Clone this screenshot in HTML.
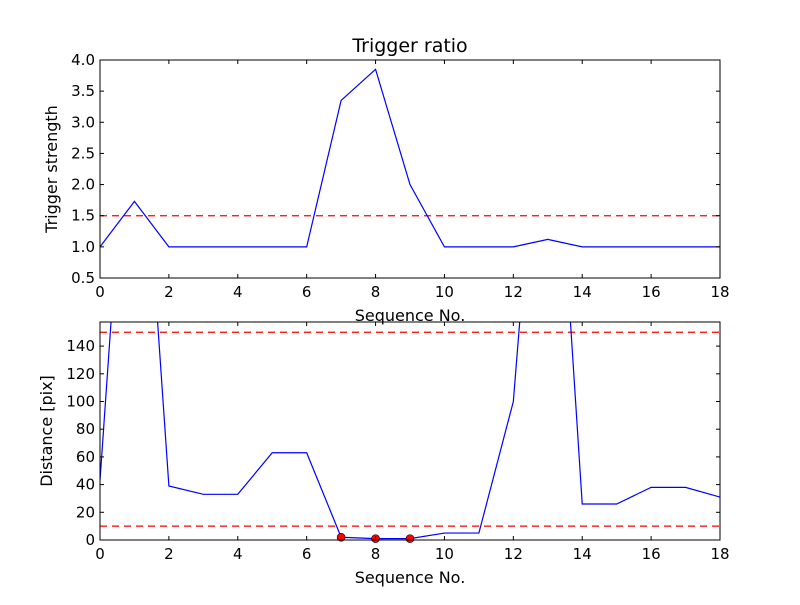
<!DOCTYPE html>
<html><head><meta charset="utf-8"><style>body{margin:0;background:#fff}svg{font-family:"DejaVu Sans","Liberation Sans",sans-serif}</style></head>
<body>
<svg id="c" width="800" height="600" xmlns="http://www.w3.org/2000/svg"></svg>
<script>
const seq = [0,1,2,3,4,5,6,7,8,9,10,11,12,13,14,15,16,17,18];
const strength = [1.0,1.73,1.0,1.0,1.0,1.0,1.0,3.35,3.85,2.0,1.0,1.0,1.0,1.12,1.0,1.0,1.0,1.0,1.0];
const distance = [43,400,39,33,33,63,63,2,1,1,5,5,100,410,26,26,38,38,31];
const flaggedIdx = [7,8,9];
const topTicksY = [0.5,1.0,1.5,2.0,2.5,3.0,3.5,4.0];
const botTicksY = [0,20,40,60,80,100,120,140];
const ticksX = [0,2,4,6,8,10,12,14,16,18];
const strengthThresh = [1.5];
const distThresh = [150,10];

const svg=document.getElementById('c');const NS='http://www.w3.org/2000/svg';
function mk(t,a,p){const e=document.createElementNS(NS,t);for(const k in a)e.setAttribute(k,a[k]);(p||svg).appendChild(e);return e;}
function panel(name,top,bot,ymin,ymax,yt,ys,thr,ylabel,title,dots){
  const L=100,R=720;
  const X=v=>L+(v-0)/(18-0)*(R-L);
  const Y=v=>bot-(v-ymin)/(ymax-ymin)*(bot-top);
  const g=mk('g',{});
  const cid='clip-'+name;const cp=mk('clipPath',{id:cid},g);mk('rect',{x:L,y:top,width:R-L,height:bot-top},cp);
  const pg=mk('g',{'clip-path':'url(#'+cid+')'},g);
  thr.forEach(t=>{const l=mk('line',{x1:L,x2:R,y1:Y(t),y2:Y(t),stroke:'#f00','stroke-width':1.3,'stroke-dasharray':'7,5'},pg);});
  const pl=mk('polyline',{points:seq.map((s,i)=>X(s)+','+Y(ys[i])).join(' '),fill:'none',stroke:'#00f','stroke-width':1.2},pg);
  
  if(dots)dots.forEach(i=>{const c=mk('circle',{cx:X(seq[i]),cy:Y(ys[i]),r:4,fill:'#f00',stroke:'#000','stroke-width':0.6},g);});
  mk('rect',{x:L,y:top,width:R-L,height:bot-top,fill:'none',stroke:'#000','stroke-width':1},g);
  ticksX.forEach(t=>{const x=X(t);mk('line',{x1:x,x2:x,y1:bot,y2:bot-4,stroke:'#000'},g);mk('line',{x1:x,x2:x,y1:top,y2:top+4,stroke:'#000'},g);
    const tx=mk('text',{x:x,y:bot+19,'text-anchor':'middle','font-size':15},g);tx.textContent=t;});
  yt.forEach(t=>{const y=Y(t);mk('line',{x1:L,x2:L+4,y1:y,y2:y,stroke:'#000'},g);mk('line',{x1:R,x2:R-4,y1:y,y2:y,stroke:'#000'},g);
    const tx=mk('text',{x:L-5,y:y+5,'text-anchor':'end','font-size':15},g);tx.textContent=(ymax<10?t.toFixed(1):t);});
  const xl=mk('text',{x:(L+R)/2,y:bot+43,'text-anchor':'middle','font-size':16},g);xl.textContent='Sequence No.';
  const yl=mk('text',{x:0,y:0,'text-anchor':'middle','font-size':16,transform:'translate('+(ymax<10?57:52)+','+((top+bot)/2)+') rotate(-90)'},g);yl.textContent=ylabel;
  if(title){const tt=mk('text',{x:(L+R)/2,y:top-8,'text-anchor':'middle','font-size':19},g);tt.textContent=title;}
}
panel('strength',60,278,0.5,4.0,topTicksY,strength,strengthThresh,'Trigger strength','Trigger ratio',null);
panel('distance',322,540,0,157.4,botTicksY,distance,distThresh,'Distance [pix]',null,flaggedIdx);
</script>
</body></html>
